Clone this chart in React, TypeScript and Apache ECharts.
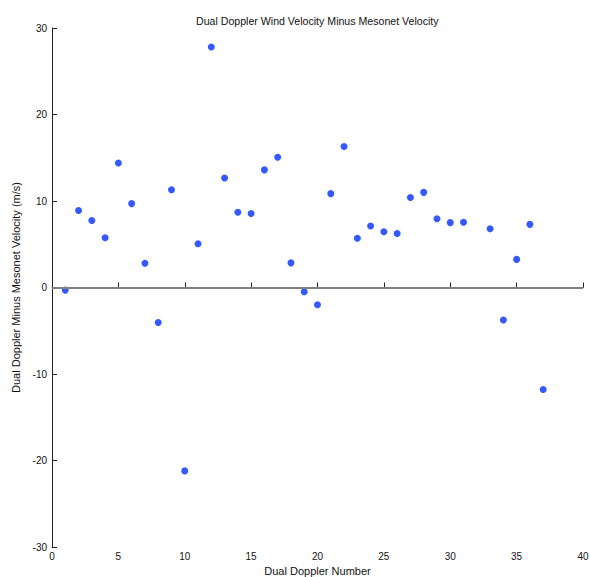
import React, { useEffect, useRef } from "react";
import * as echarts from "echarts";

const xValues = [1, 2, 3, 4, 5, 6, 7, 8, 9, 10, 11, 12, 13, 14, 15, 16, 17, 18, 19, 20, 21, 22, 23, 24, 25, 26, 27, 28, 29, 30, 31, 33, 34, 35, 36, 37];
const yValues = [-0.3, 8.9, 7.75, 5.75, 14.4, 9.7, 2.8, -4.05, 11.3, -21.2, 5.05, 27.8, 12.65, 8.7, 8.55, 13.6, 15.05, 2.85, -0.5, -2.0, 10.85, 16.3, 5.7, 7.1, 6.45, 6.25, 10.4, 11.0, 7.95, 7.5, 7.55, 6.8, -3.75, 3.25, 7.3, -11.8];

const titleText = "Dual Doppler Wind Velocity Minus Mesonet Velocity";
const xAxisName = "Dual Doppler Number";
const yAxisName = "Dual Doppler Minus Mesonet Velocity (m/s)";

const FONT = "Liberation Sans, Arial, sans-serif";

export default function App() {
  const ref = useRef<HTMLDivElement>(null);
  useEffect(() => {
    if (!ref.current) return;
    const chart = echarts.init(ref.current, undefined, { renderer: "svg" });
    const data = xValues.map((x, i) => [x, yValues[i]]);
    chart.setOption({
      animation: false,
      backgroundColor: "#ffffff",
      title: {
        text: titleText,
        left: 191,
        top: 10,
        textStyle: { fontFamily: FONT, fontSize: 10.6, fontWeight: "normal", color: "#111" },
      },
      grid: { left: 52, right: 7, top: 28, bottom: 30, containLabel: false, outerBoundsMode: "none" },
      xAxis: {
        type: "value",
        min: 0,
        max: 40,
        interval: 5,
        name: xAxisName,
        nameLocation: "middle",
        nameGap: 18,
        nameTextStyle: { fontFamily: FONT, fontSize: 11, color: "#111" },
        axisLine: { show: true, lineStyle: { color: "#222", width: 1 } },
        axisTick: { show: true, inside: true, length: 5, lineStyle: { color: "#222" } },
        axisLabel: { fontFamily: FONT, fontSize: 10, color: "#111", margin: 4 },
        splitLine: { show: false },
      },
      yAxis: {
        type: "value",
        min: -30,
        max: 30,
        interval: 10,
        name: yAxisName,
        nameLocation: "middle",
        nameGap: 22,
        nameTextStyle: { fontFamily: FONT, fontSize: 11, color: "#111" },
        axisLine: { show: true, onZero: false, lineStyle: { color: "#222", width: 1 } },
        axisTick: { show: true, inside: true, length: 5, lineStyle: { color: "#222" } },
        axisLabel: { fontFamily: FONT, fontSize: 10, color: "#111", margin: 5 },
        splitLine: { show: false },
      },
      series: [
        {
          type: "scatter",
          data,
          symbol: "circle",
          symbolSize: 7,
          itemStyle: { color: "#0030ff" },
          markLine: {
            silent: true,
            symbol: ["none", "none"],
            label: { show: false },
            lineStyle: { color: "#808080", width: 1.8, type: "solid" },
            data: [{ yAxis: 0 }],
          },
        },
      ],
    });
    return () => chart.dispose();
  }, []);
  return <div ref={ref} style={{ width: 590, height: 577, position: "absolute", left: 0, top: 0 }} />;
}
